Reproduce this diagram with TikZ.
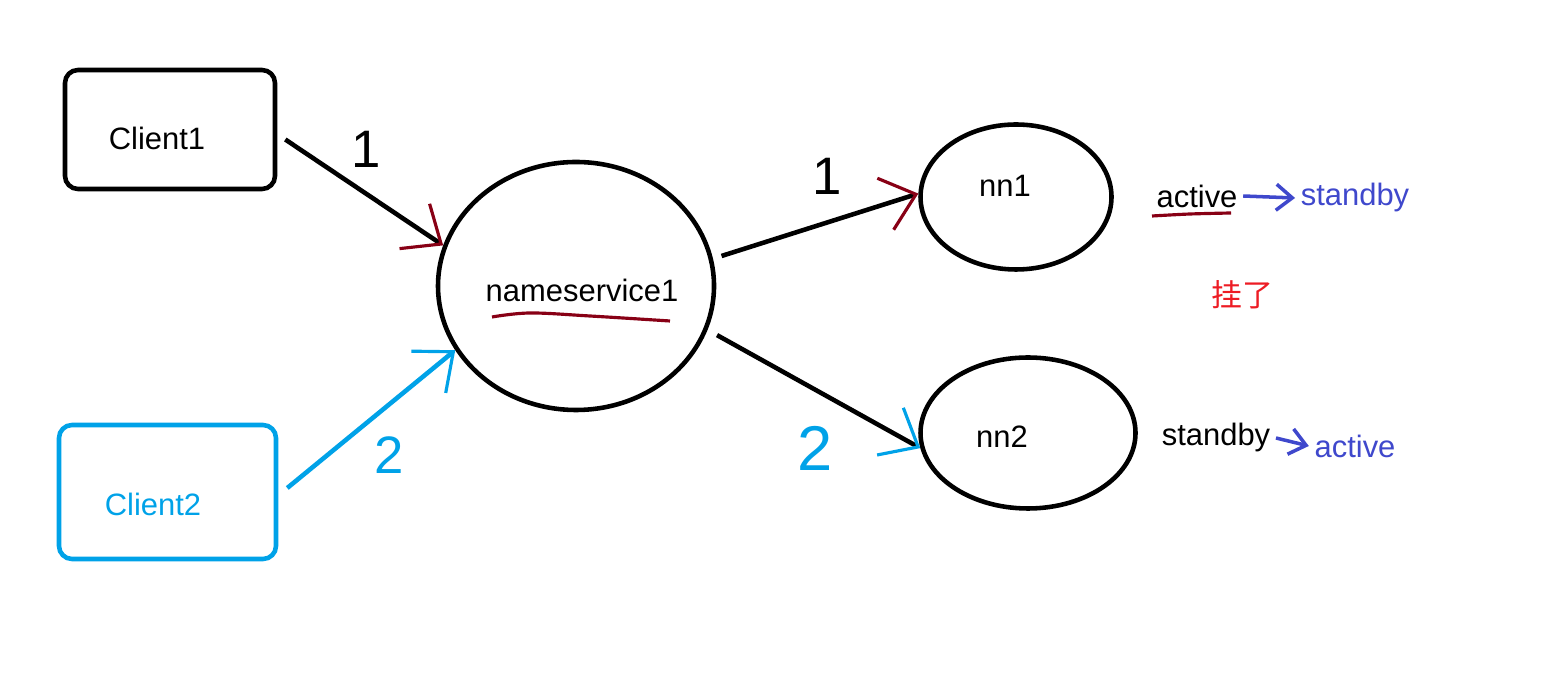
\documentclass[tikz,border=0pt]{standalone}
\usepackage{fontspec}
\setmainfont{Liberation Sans}
\newfontfamily\cjkfont{Noto Sans CJK SC}
\usepackage{tikz}
\usetikzlibrary{shapes.geometric, arrows.meta, positioning, calc}
\definecolor{dkred}{RGB}{136,0,21}
\definecolor{paintblue}{RGB}{0,162,232}
\definecolor{indigo}{RGB}{63,72,204}
\definecolor{paintred}{RGB}{237,28,36}

\begin{document}
\begin{tikzpicture}[x=0.1mm, y=-0.1mm, line width=1.3pt, font=\fontsize{8.8}{10}\selectfont,
		box/.style={draw, rounded corners=1.3mm},
		oval/.style={draw, ellipse, inner sep=0pt},
		txt/.style={inner sep=1pt},
		digit/.style={inner sep=0pt, font=\fontsize{15}{15}\selectfont},
		redhead/.style={-{Straight Barb[dkred, length=3.2mm, width=5.4mm, line width=0.9pt]}},
		bluehead/.style={-{Straight Barb[paintblue, length=3.2mm, width=5.4mm, line width=0.9pt]}},
		small/.style={indigo, line width=1pt, -{Straight Barb[length=1.6mm, width=2.6mm]}}]
		
		\useasboundingbox (0,0) rectangle (1567,673);
		
		% ---------------------------------------------------------
		% Clients
		% ---------------------------------------------------------
		\node[box, minimum width=21mm, minimum height=11.9mm] (c1box) at (170,129.5) {};
		\node[txt] (c1) at (157,138) {Client1};
		
		\node[box, paintblue, minimum width=21.7mm, minimum height=13.4mm] (c2box) at (167.5,492) {};
		\node[txt, paintblue] (c2) at (153,504) {Client2};
		
		% ---------------------------------------------------------
		% Nameservice and namenodes
		% ---------------------------------------------------------
		\node[oval, minimum width=27.6mm, minimum height=24.8mm] (ns) at (576,286) {};
		\node[txt] (nstext) at (582,290) {nameservice1};
		\draw[dkred, line width=0.9pt] plot [smooth, tension=0.6] coordinates {
			(492,317) (530,313) (590,316) (670,321)
		};
		
		\node[oval, minimum width=19.1mm, minimum height=14.5mm] (nn1) at (1016,197) {};
		\node[txt] (nn1text) at (1005,186) {nn1};
		
		\node[oval, minimum width=21.5mm, minimum height=15.1mm] (nn2) at (1028,433) {};
		\node[txt] (nn2text) at (1002,437) {nn2};
		
		% ---------------------------------------------------------
		% Requests
		% ---------------------------------------------------------
		\draw[redhead] ($(c1box.east)+(8,10)$) -- (ns.163);
		\node[digit] (one_a) at (366,149) {1};
		
		\draw[paintblue, bluehead] ($(c2box.east)+(9,-4)$) -- (ns.208);
		\node[digit, paintblue] (two_a) at (389,455) {2};
		
		\draw[redhead] ($(ns.12)+(9,-1)$) -- (nn1.178);
		\node[digit] (one_b) at (827,176) {1};
		
		\draw[bluehead] ($(ns.-19)+(10,4)$) -- (nn2.188);
		\node[digit, paintblue, font=\fontsize{18}{18}\selectfont] (two_b) at (815,448) {2};
		
		% ---------------------------------------------------------
		% State change
		% ---------------------------------------------------------
		\node[txt] (act1) at (1197,196) {active};
		\draw[dkred, line width=0.9pt] plot [smooth] coordinates {(1152,216) (1190,214) (1231,213)};
		\node[txt, indigo] (stb1) at (1355,198) {standby};
		\draw[small] (act1.east) -- (stb1.west);
		
		\node[txt, paintred] (down) at (1242,295) {\cjkfont 挂了};
		
		\node[txt] (stb2) at (1216,438) {standby};
		\node[txt, indigo] (act2) at (1355,446) {active};
		\draw[small] (stb2.east) -- (act2.west);
		
	\end{tikzpicture}
\end{document}
